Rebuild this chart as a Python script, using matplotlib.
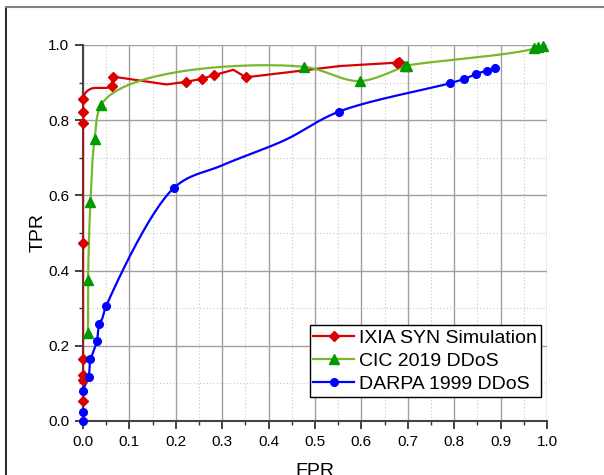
import numpy as np
import matplotlib
matplotlib.use("Agg")
import matplotlib.pyplot as plt
from matplotlib.lines import Line2D
from matplotlib.ticker import MultipleLocator

plt.rcParams['font.family'] = ['Liberation Sans', 'DejaVu Sans']

# ---- data ----
red_label = "IXIA SYN Simulation"
red_x = [0, 0, 0, 0, 0, 0, 0, 0, 0.005, 0.018, 0.062, 0.064, 0.18, 0.222, 0.256, 0.283, 0.324, 0.351, 0.554, 0.676, 0.681]
red_y = [0.053, 0.109, 0.122, 0.165, 0.473, 0.793, 0.822, 0.856, 0.872, 0.884, 0.890, 0.916, 0.895, 0.902, 0.910, 0.920, 0.934, 0.914, 0.944, 0.953, 0.954]
red_marked = [0, 1, 2, 3, 4, 5, 6, 7, 10, 11, 13, 14, 15, 17, 19, 20]

green_label = "CIC 2019 DDoS"
green_x = [0.011, 0.011, 0.016, 0.025, 0.039, 0.476, 0.598, 0.695, 0.698, 0.973, 0.981, 0.992]
green_y = [0.233, 0.374, 0.582, 0.749, 0.840, 0.942, 0.904, 0.944, 0.945, 0.991, 0.995, 0.997]

blue_label = "DARPA 1999 DDoS"
blue_x = [0, 0, 0, 0.012, 0.016, 0.021, 0.030, 0.035, 0.041, 0.050, 0.196, 0.300, 0.435, 0.552, 0.790, 0.822, 0.848, 0.870, 0.888]
blue_y = [0.0, 0.025, 0.080, 0.117, 0.165, 0.180, 0.213, 0.259, 0.271, 0.306, 0.620, 0.680, 0.747, 0.823, 0.898, 0.910, 0.923, 0.932, 0.940]
blue_marked = [0, 1, 2, 3, 4, 6, 7, 9, 10, 13, 14, 15, 16, 17, 18]

x_ticks = [0.0, 0.1, 0.2, 0.3, 0.4, 0.5, 0.6, 0.7, 0.8, 0.9, 1.0]
y_ticks = [0.0, 0.2, 0.4, 0.6, 0.8, 1.0]

N_SEG = 60


def catmull(x, y, alpha=0.5, sx=464.0, sy=376.0, n=N_SEG):
    """Catmull-Rom curve through the given points (pixel-like scaling)."""
    P = np.column_stack([np.asarray(x, float) * sx, np.asarray(y, float) * sy])
    P = np.vstack([2 * P[0] - P[1], P, 2 * P[-1] - P[-2]])
    out = []
    for i in range(1, len(P) - 2):
        p0, p1, p2, p3 = P[i - 1], P[i], P[i + 1], P[i + 2]
        t0 = 0.0
        t1 = t0 + np.linalg.norm(p1 - p0) ** alpha + 1e-9
        t2 = t1 + np.linalg.norm(p2 - p1) ** alpha + 1e-9
        t3 = t2 + np.linalg.norm(p3 - p2) ** alpha + 1e-9
        t = np.linspace(t1, t2, n)[:, None]
        A1 = (t1 - t) / (t1 - t0) * p0 + (t - t0) / (t1 - t0) * p1
        A2 = (t2 - t) / (t2 - t1) * p1 + (t - t1) / (t2 - t1) * p2
        A3 = (t3 - t) / (t3 - t2) * p2 + (t - t2) / (t3 - t2) * p3
        B1 = (t2 - t) / (t2 - t0) * A1 + (t - t0) / (t2 - t0) * A2
        B2 = (t3 - t) / (t3 - t1) * A2 + (t - t1) / (t3 - t1) * A3
        out.append((t2 - t) / (t2 - t1) * B1 + (t - t1) / (t2 - t1) * B2)
    C = np.vstack(out)
    return C[:, 0] / sx, C[:, 1] / sy


fig = plt.figure(figsize=(6.04, 4.75), dpi=100)
ax = fig.add_axes([0.1374, 0.1137, 0.9056 - 0.1374, 0.9053 - 0.1137])

red_c = '#d80000'
green_line_c = '#77b82c'
green_mark_c = '#009a00'
blue_c = '#0000ff'
lw = 1.6

# red: vertical run, smooth bend (points 7..10), then straight segments
ax.plot(red_x[:8], red_y[:8], color=red_c, lw=lw, zorder=3)
rx, ry = catmull(red_x[6:12], red_y[6:12])
ax.plot(rx[N_SEG:4 * N_SEG], ry[N_SEG:4 * N_SEG], color=red_c, lw=lw, zorder=3)
ax.plot(red_x[10:], red_y[10:], color=red_c, lw=lw, zorder=3)
ax.plot(np.array(red_x)[red_marked], np.array(red_y)[red_marked], ls='none', marker='D',
        ms=5, color=red_c, zorder=4, clip_on=False)

gx, gy = catmull(green_x, green_y, alpha=0.75)
ax.plot(gx, gy, color=green_line_c, lw=lw, zorder=3)
ax.plot(green_x, green_y, ls='none', marker='^', ms=6.5, color=green_mark_c, zorder=4, clip_on=False)

bx, by = catmull(blue_x, blue_y)
ax.plot(bx, by, color=blue_c, lw=lw, zorder=3)
ax.plot(np.array(blue_x)[blue_marked], np.array(blue_y)[blue_marked], ls='none', marker='o',
        ms=5.5, color=blue_c, zorder=4, clip_on=False)

ax.set_xlim(0, 1.0)
ax.set_ylim(0, 1.0)
ax.set_xticks(x_ticks)
ax.set_yticks(y_ticks)
ax.set_xticklabels([f"{v:.1f}" for v in x_ticks])
ax.set_yticklabels([f"{v:.1f}" for v in y_ticks])
ax.xaxis.set_minor_locator(MultipleLocator(0.05))
ax.yaxis.set_minor_locator(MultipleLocator(0.1))
ax.grid(which='major', color='#a0a0a0', lw=1.0, ls='-')
ax.grid(which='minor', color='#c8c8c8', lw=0.8, ls=(0, (1, 2)))
ax.set_axisbelow(True)
for s in ['top', 'right']:
    ax.spines[s].set_visible(False)
for s in ['left', 'bottom']:
    ax.spines[s].set_color('#444444')
    ax.spines[s].set_linewidth(1.5)
ax.tick_params(which='major', direction='out', length=6, width=1.3, color='#333333',
               labelsize=11, pad=4)
ax.tick_params(which='minor', direction='out', length=3, width=1.0, color='#333333')

ax.set_xlabel("FPR", fontsize=14, labelpad=10)
ax.set_ylabel("TPR", fontsize=14, labelpad=1)

handles = [
    Line2D([], [], color=red_c, lw=lw, marker='D', ms=5),
    Line2D([], [], color=green_line_c, lw=lw, marker='^', ms=6.5, mfc=green_mark_c, mec=green_mark_c),
    Line2D([], [], color=blue_c, lw=lw, marker='o', ms=5.5),
]
leg = ax.legend(handles, [red_label, green_label, blue_label], loc='lower right',
                bbox_to_anchor=(0.987, 0.065), borderaxespad=0, fontsize=14,
                fancybox=False, framealpha=1, edgecolor='black', handlelength=2.1,
                handletextpad=0.25, labelspacing=0.28, borderpad=0.2)
leg.get_frame().set_linewidth(1.0)

# page frame lines
fig.add_artist(Line2D([6 / 604, 6 / 604], [0, 1 - 7 / 475], transform=fig.transFigure,
                      color='black', lw=1.2))
fig.add_artist(Line2D([6 / 604, 1], [1 - 7 / 475, 1 - 7 / 475], transform=fig.transFigure,
                      color='#808080', lw=1.5))

fig.savefig("out.png", dpi=100)
